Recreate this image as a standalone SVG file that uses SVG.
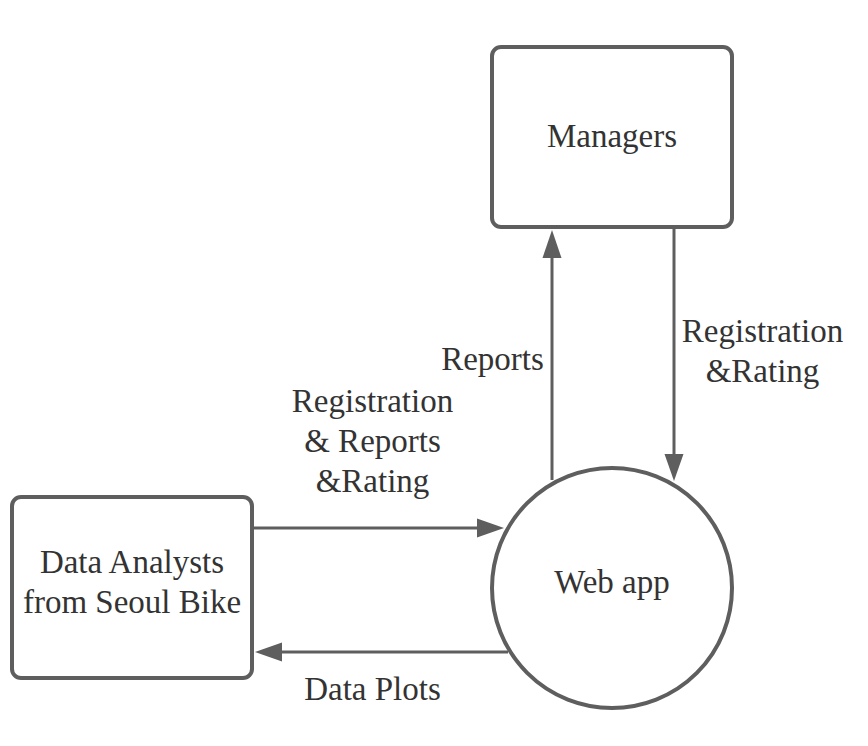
<svg xmlns="http://www.w3.org/2000/svg" width="868" height="746" viewBox="0 0 868 746">
<defs>
<style>
.box{fill:#fff;stroke:#5e5e5e;stroke-width:4}
.ln{fill:none;stroke:#5e5e5e;stroke-width:3}
.ah{fill:#5e5e5e}
text{font-family:"Liberation Serif","Times New Roman",serif;font-size:33px;fill:#333;text-anchor:middle}
</style>
</defs>
<rect width="868" height="746" fill="#fff"/>
<g id="connectors">
<line class="ln" x1="552" y1="480" x2="552" y2="255"/>
<polygon class="ah" points="552,230 542.5,258 561.5,258"/>
<line class="ln" x1="674" y1="228" x2="674" y2="457"/>
<polygon class="ah" points="674,481 664.5,454 683.5,454"/>
<line class="ln" x1="252" y1="528" x2="480" y2="528"/>
<polygon class="ah" points="504,528 477,518.5 477,537.5"/>
<line class="ln" x1="508" y1="652" x2="280" y2="652"/>
<polygon class="ah" points="255,652 282,642.5 282,661.5"/>
<text x="492.5" y="370">Reports</text>
<text x="372.5" y="412">Registration</text>
<text x="372.5" y="452">&amp; Reports</text>
<text x="372.5" y="492">&amp;Rating</text>
<text x="762.5" y="342">Registration</text>
<text x="762.5" y="382">&amp;Rating</text>
<text x="372.5" y="700">Data Plots</text>
</g>
<g id="managers">
<rect class="box" x="492" y="47" width="240" height="180" rx="9"/>
<text x="612" y="147">Managers</text>
</g>
<g id="analysts">
<rect class="box" x="12" y="497" width="240" height="181" rx="9"/>
<text x="132" y="573">Data Analysts</text>
<text x="132" y="613">from Seoul Bike</text>
</g>
<g id="webapp">
<circle class="box" cx="612" cy="588" r="120"/>
<text x="612" y="593">Web app</text>
</g>
</svg>
